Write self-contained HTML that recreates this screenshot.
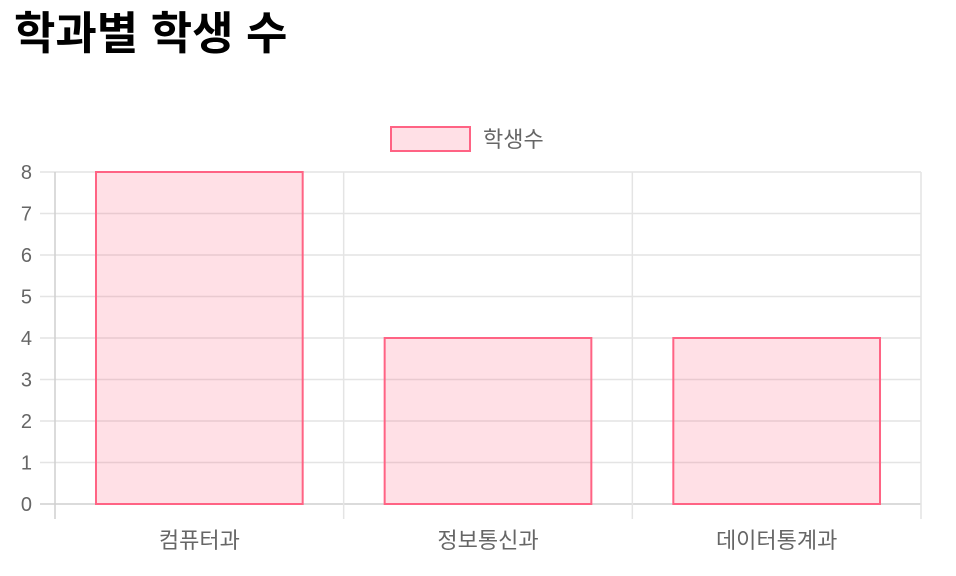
<!DOCTYPE html>
<html><head><meta charset="utf-8"><style>
body{margin:0;background:#fff;width:956px;height:576px;overflow:hidden;font-family:"Liberation Sans","Noto Sans CJK KR",sans-serif}
h1{position:absolute;left:14px;top:5px;margin:0;font-size:45px;line-height:58px;font-weight:bold;color:#000;font-family:"Liberation Sans","Noto Sans CJK KR",sans-serif}
svg{position:absolute;left:0;top:0}
text{font-family:"Liberation Sans","Noto Sans CJK KR",sans-serif;fill:#666}
</style></head><body>
<h1>학과별 학생 수</h1>
<svg id="c" width="956" height="576"></svg>
<script>
const categories=["컴퓨터과","정보통신과","데이터통계과"];
const values=[8,4,4];
const yTicks=[0,1,2,3,4,5,6,7,8];
const seriesName="학생수";
const svg=document.getElementById('c');
const NS='http://www.w3.org/2000/svg';
const L=55,R=921,T=172,B=504,yMax=8;
const y=v=>B-(v/yMax)*(B-T);
const bw=(R-L)/categories.length;
const x=i=>L+bw*i;
function el(t,a,txt){const e=document.createElementNS(NS,t);for(const k in a)e.setAttribute(k,a[k]);if(txt!==undefined)e.textContent=txt;svg.appendChild(e);return e;}
yTicks.forEach(v=>{
 const g=el('line',{x1:40,x2:R,y1:y(v),y2:y(v),stroke:v===0?'#cfcfcf':'#e4e4e4','stroke-width':1.5});
 
 
 const t=el('text',{x:32,y:y(v)+7,'text-anchor':'end','font-size':20},String(v));
 
 
});
for(let i=0;i<=categories.length;i++){
 const g=el('line',{x1:x(i),x2:x(i),y1:T,y2:B+15,stroke:i===0?'#cfcfcf':'#e4e4e4','stroke-width':1.5});
 
 
}
categories.forEach((c,i)=>{
 const w=bw*0.716,x0=x(i)+(bw-w)/2;
 const r=el('rect',{x:x0,y:y(values[i]),width:w,height:B-y(values[i]),fill:'rgba(255,99,132,0.2)',stroke:'rgb(255,99,132)','stroke-width':2});
 
 
 const t=el('text',{x:x(i)+bw/2,y:548,'text-anchor':'middle','font-size':22},c);
 
 
});
const lb=el('rect',{x:391,y:127,width:79,height:24,fill:'rgba(255,99,132,0.2)',stroke:'rgb(255,99,132)','stroke-width':2});


const lt=el('text',{x:483,y:147,'font-size':22},seriesName);


</script>
</body></html>
